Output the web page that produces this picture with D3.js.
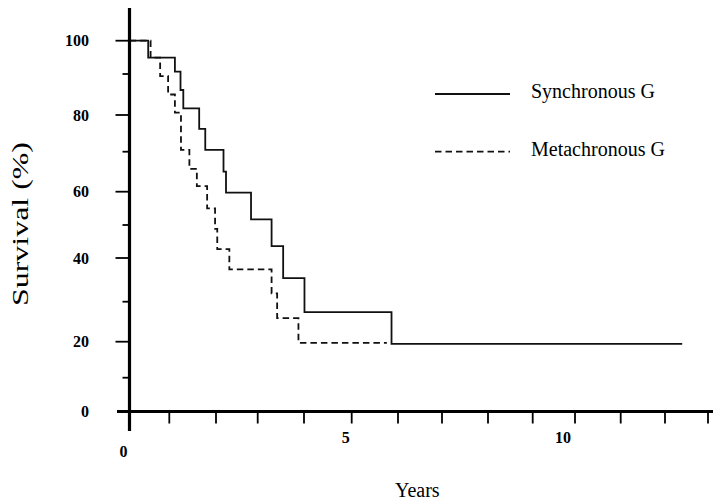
<!DOCTYPE html>
<html>
<head>
<meta charset="utf-8">
<script src="https://cdn.jsdelivr.net/npm/d3@7"></script>
<style>
  html, body { margin: 0; padding: 0; background: #fff; }
  svg { display: block; }
</style>
</head>
<body>
<svg id="chart" width="713" height="501"></svg>
<script>
// ---- data ----
const seriesNames = ["Synchronous G", "Metachronous G"];
// Synchronous G: event times (years) and survival (%) after each step
const syncTimes    = [0, 0.47, 1.12, 1.24, 1.30, 1.64, 1.77, 2.18, 2.24, 2.84, 3.30, 3.55, 4.01, 5.86, 12.40];
const syncSurvival = [100, 94.9, 90.7, 86.1, 81.6, 76.2, 70.5, 65.0, 59.7, 51.7, 43.6, 35.4, 27.4, 19.4, 19.4];
// Metachronous G
const metaTimes    = [0, 0.53, 0.77, 0.97, 1.12, 1.25, 1.43, 1.59, 1.81, 1.98, 2.03, 2.32, 3.30, 3.42, 3.88, 5.76];
const metaSurvival = [100, 94.9, 89.5, 85.0, 80.6, 70.5, 65.7, 61.4, 55.0, 48.8, 42.7, 37.4, 31.9, 25.9, 19.7, 19.7];
// ticks
const yMajorTicks = [0, 20, 40, 60, 80, 100];
const yMinorTicks = [10, 30, 50, 70, 90];
const xTicks = [0, 1, 2, 3, 4, 5, 6, 7, 8, 9, 10, 11, 12, 13];
const xTickLabels = [0, 5, 10];
const xTitle = "Years";
const yTitle = "Survival (%)";

// ---- scales (piecewise, following the printed axis) ----
const x = d3.scaleLinear()
  .domain([0, 1, 2, 3, 4, 5, 6, 7, 8, 9, 10, 11, 12, 13])
  .range([129.5, 169.3, 216, 257.7, 304, 351.7, 398, 442, 488, 532.7, 575, 620.7, 665, 708]);
const y = d3.scaleLinear()
  .domain([0, 10, 20, 30, 40, 50, 60, 70, 80, 90, 100])
  .range([411.5, 377.7, 341.7, 301.7, 258, 225, 191.7, 151.7, 115, 74, 40.7]);

const svg = d3.select("#chart");
const serif = "'Liberation Serif', 'Times New Roman', serif";

// ---- curves ----
const line = d3.line()
  .x(d => x(d[0]))
  .y(d => y(d[1]))
  .curve(d3.curveStepAfter);

const syncData = syncTimes.map((t, i) => [t, syncSurvival[i]]);
const metaData = metaTimes.map((t, i) => [t, metaSurvival[i]]);

svg.append("path").datum(metaData)
  .attr("d", line).attr("fill", "none")
  .attr("stroke", "#111").attr("stroke-width", 1.8)
  .attr("stroke-dasharray", "6.5,4");
svg.append("path").datum(syncData)
  .attr("d", line).attr("fill", "none")
  .attr("stroke", "#111").attr("stroke-width", 1.8);

// ---- axes ----
const axisG = svg.append("g");
const x0 = x(0), y0 = y(0);
axisG.append("line").attr("x1", x0).attr("x2", x0).attr("y1", 8).attr("y2", 431)
  .attr("stroke", "#000").attr("stroke-width", 3.2);
axisG.append("line").attr("x1", 117).attr("x2", 713).attr("y1", y0).attr("y2", y0)
  .attr("stroke", "#000").attr("stroke-width", 3);

axisG.selectAll(".ymaj").data(yMajorTicks.filter(v => v !== 0)).enter().append("line")
  .attr("x1", x0 - 14).attr("x2", x0).attr("y1", d => y(d)).attr("y2", d => y(d))
  .attr("stroke", "#000").attr("stroke-width", 1.8);
axisG.selectAll(".ymin").data(yMinorTicks).enter().append("line")
  .attr("x1", x0 - 7).attr("x2", x0).attr("y1", d => y(d)).attr("y2", d => y(d))
  .attr("stroke", "#000").attr("stroke-width", 1.8);
axisG.selectAll(".ylab").data(yMajorTicks).enter().append("text")
  .attr("x", 89).attr("y", d => y(d) + 2)
  .attr("text-anchor", "end").attr("dominant-baseline", "middle")
  .attr("font-family", serif).attr("font-weight", "bold").attr("font-size", 16)
  .text(d => d);

axisG.selectAll(".xt").data(xTicks.filter(v => v !== 0)).enter().append("line")
  .attr("x1", d => x(d)).attr("x2", d => x(d)).attr("y1", y0).attr("y2", y0 + 12)
  .attr("stroke", "#000").attr("stroke-width", 1.8);
axisG.selectAll(".xlab").data(xTickLabels).enter().append("text")
  .attr("x", d => x(d) - 6 - (d >= 10 ? 6 : 0))
  .attr("y", d => d === 0 ? 457 : 443)
  .attr("text-anchor", "middle")
  .attr("font-family", serif).attr("font-weight", "bold").attr("font-size", 16)
  .text(d => d);

// titles
svg.append("text").attr("x", 395).attr("y", 497)
  .attr("font-family", serif).attr("font-size", 20).text(xTitle);
svg.append("text")
  .attr("transform", "translate(28,224) rotate(-90)")
  .attr("text-anchor", "middle")
  .attr("font-family", serif).attr("font-size", 23)
  .attr("textLength", 164).attr("lengthAdjust", "spacingAndGlyphs")
  .text(yTitle);

// ---- legend ----
const legend = svg.append("g");
const legendRows = [
  { name: seriesNames[0], dash: null, ly: 94, ty: 98 },
  { name: seriesNames[1], dash: "6.5,4", ly: 151.7, ty: 155.5 }
];
legendRows.forEach(r => {
  legend.append("line").attr("x1", 435).attr("x2", 510).attr("y1", r.ly).attr("y2", r.ly)
    .attr("stroke", "#111").attr("stroke-width", 1.8)
    .attr("stroke-dasharray", r.dash);
  legend.append("text").attr("x", 531).attr("y", r.ty)
    .attr("font-family", serif).attr("font-size", 20).text(r.name);
});
</script>
</body>
</html>
